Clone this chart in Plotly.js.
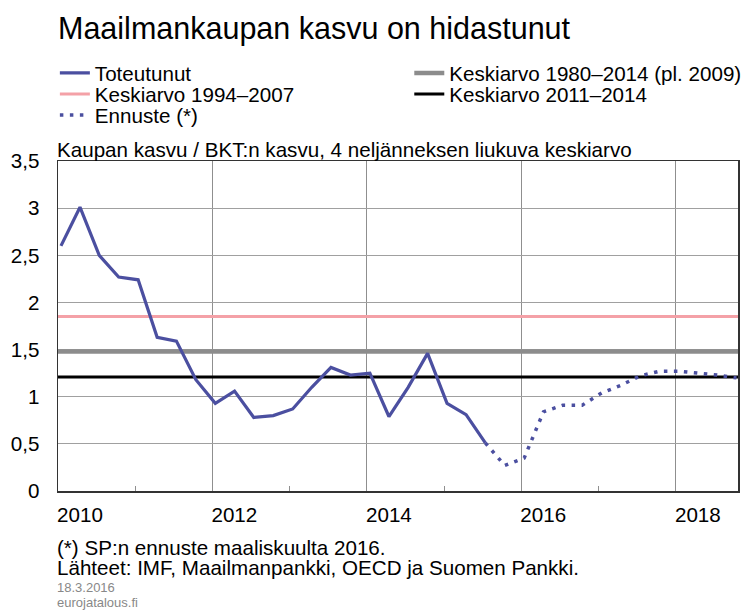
<!DOCTYPE html>
<html>
<head>
<meta charset="utf-8">
<script src="https://cdn.plot.ly/plotly-3.0.1.min.js"></script>
<style>
  html, body { margin: 0; padding: 0; background: #ffffff; }
  #chart { width: 745px; height: 610px; }
</style>
</head>
<body>
<div id="chart"></div>
<script>
// ---- Data ----
const quarters = [
  '2010-01-15','2010-04-15','2010-07-15','2010-10-15',
  '2011-01-15','2011-04-15','2011-07-15','2011-10-15',
  '2012-01-15','2012-04-15','2012-07-15','2012-10-15',
  '2013-01-15','2013-04-15','2013-07-15','2013-10-15',
  '2014-01-15','2014-04-15','2014-07-15','2014-10-15',
  '2015-01-15','2015-04-15','2015-07-15','2015-10-15',
  '2016-01-15','2016-04-15','2016-07-15','2016-10-15',
  '2017-01-15','2017-04-15','2017-07-15','2017-10-15',
  '2018-01-15','2018-04-15','2018-07-15','2018-10-15'
];
// Toteutunut (actual), 2010Q1 .. 2015Q3
const actualValues = [
  2.60, 3.01, 2.50, 2.27, 2.24, 1.63, 1.59, 1.18,
  0.93, 1.06, 0.78, 0.80, 0.87, 1.10, 1.31, 1.23,
  1.25, 0.79, 1.10, 1.46, 0.93, 0.81, 0.51
];
// Ennuste (forecast), 2015Q3 .. 2018Q4
const forecastValues = [
  0.51, 0.27, 0.35, 0.84, 0.91, 0.91, 1.04, 1.12,
  1.22, 1.27, 1.27, 1.25, 1.23, 1.20
];
const avg1980_2014 = 1.48;
const avg1994_2007 = 1.85;
const avg2011_2014 = 1.21;

const yTicks = [0, 0.5, 1, 1.5, 2, 2.5, 3, 3.5];
const xRange = ['2010-01-01', '2018-10-22'];

const nActual = actualValues.length;
const actualDates = quarters.slice(0, nActual);
const forecastDates = quarters.slice(nActual - 1, nActual - 1 + forecastValues.length);

const FONT = '"Liberation Sans", Arial, Helvetica, sans-serif';
const FS = 20.6;
const BLUE = '#4b4fa0';

function avgTrace(name, val, color, width, legendId) {
  return {
    type: 'scatter', mode: 'lines', name: name,
    x: xRange, y: [val, val],
    line: { color: color, width: width },
    legend: legendId, hoverinfo: 'skip', cliponaxis: true
  };
}

const traces = [
  avgTrace('Keskiarvo 1980–2014 (pl. 2009)', avg1980_2014, '#8c8c8c', 4.5, 'legend2'),
  avgTrace('Keskiarvo 1994–2007', avg1994_2007, '#f4a1a7', 3, 'legend3'),
  avgTrace('Keskiarvo 2011–2014', avg2011_2014, '#000000', 3, 'legend4'),
  {
    type: 'scatter', mode: 'lines', name: 'Toteutunut',
    x: actualDates, y: actualValues,
    line: { color: BLUE, width: 3.2 }, legend: 'legend'
  },
  {
    type: 'scatter', mode: 'lines', name: 'Ennuste (*)',
    x: forecastDates, y: forecastValues,
    line: { color: BLUE, width: 3.5, dash: '3.5px,6.5px' }, legend: 'legend5'
  }
];

function leg(x, y) {
  return {
    x: x, y: y, xref: 'paper', yref: 'paper', xanchor: 'left', yanchor: 'middle',
    orientation: 'v', bgcolor: 'rgba(0,0,0,0)', borderwidth: 0,
    font: { family: FONT, size: FS, color: '#000' },
    itemwidth: 30
  };
}

const H = 330, TOP = 161;
function py(p) { return (TOP + H - p) / H; }

const COL1 = -0.0046, COL2 = 0.5166;

const layout = {
  width: 745, height: 610,
  margin: { l: 58, r: 7, t: TOP, b: 610 - TOP - H, pad: 0, autoexpand: false },
  paper_bgcolor: '#ffffff', plot_bgcolor: '#ffffff',
  separators: ', ',
  font: { family: FONT, size: FS, color: '#000' },
  showlegend: true,
  title: {
    text: 'Maailmankaupan kasvu on hidastunut',
    font: { family: FONT, size: 30.5, color: '#000' },
    x: 0, xref: 'paper', xanchor: 'left',
    y: 1 - 28.5 / 610, yref: 'container', yanchor: 'middle'
  },
  legend: leg(COL1, py(73)),
  legend2: leg(COL2, py(73)),
  legend3: leg(COL1, py(94)),
  legend4: leg(COL2, py(94)),
  legend5: leg(COL1, py(115)),
  xaxis: {
    type: 'date', range: xRange,
    tick0: '2010-01-01', dtick: 'M24', tickformat: '%Y',
    showgrid: true, gridcolor: '#8f8f8f', gridwidth: 1,
    ticks: 'inside', ticklen: 5, tickcolor: '#8f8f8f',
    ticklabelshift: 22, ticklabelstandoff: 5,
    minor: { dtick: 'M12', tick0: '2010-01-01', ticks: 'inside', ticklen: 5, tickcolor: '#8f8f8f', showgrid: false },
    showline: true, linecolor: '#333', linewidth: 1.5, mirror: true,
    zeroline: false, fixedrange: true, automargin: false,
    tickfont: { family: FONT, size: FS, color: '#000' }
  },
  yaxis: {
    range: [0, 3.5], tickvals: yTicks,
    showgrid: true, gridcolor: '#a0a0a0', gridwidth: 1,
    ticks: '', ticklabelstandoff: 13,
    showline: true, linecolor: '#333', linewidth: 1.5, mirror: true,
    zeroline: false, fixedrange: true, automargin: false,
    tickfont: { family: FONT, size: FS, color: '#000' }
  },
  annotations: [
    { text: 'Kaupan kasvu / BKT:n kasvu, 4 neljänneksen liukuva keskiarvo',
      xref: 'paper', yref: 'paper', x: 0, y: 1, xanchor: 'left', yanchor: 'bottom',
      showarrow: false, font: { family: FONT, size: FS, color: '#000' }, xshift: -3, yshift: -2 },
    { text: '(*) SP:n ennuste maaliskuulta 2016.',
      xref: 'paper', yref: 'paper', x: 0, y: py(547.5), xanchor: 'left', yanchor: 'middle',
      showarrow: false, font: { family: FONT, size: FS, color: '#000' }, xshift: -3 },
    { text: 'Lähteet: IMF, Maailmanpankki, OECD ja Suomen Pankki.',
      xref: 'paper', yref: 'paper', x: 0, y: py(567), xanchor: 'left', yanchor: 'middle',
      showarrow: false, font: { family: FONT, size: FS, color: '#000' }, xshift: -3 },
    { text: '18.3.2016',
      xref: 'paper', yref: 'paper', x: 0, y: py(587.5), xanchor: 'left', yanchor: 'middle',
      showarrow: false, font: { family: FONT, size: 13, color: '#888' }, xshift: -3 },
    { text: 'eurojatalous.fi',
      xref: 'paper', yref: 'paper', x: 0, y: py(602), xanchor: 'left', yanchor: 'middle',
      showarrow: false, font: { family: FONT, size: 13, color: '#888' }, xshift: -3 }
  ]
};

Plotly.newPlot('chart', traces, layout, { displayModeBar: false, staticPlot: true });
</script>
</body>
</html>
